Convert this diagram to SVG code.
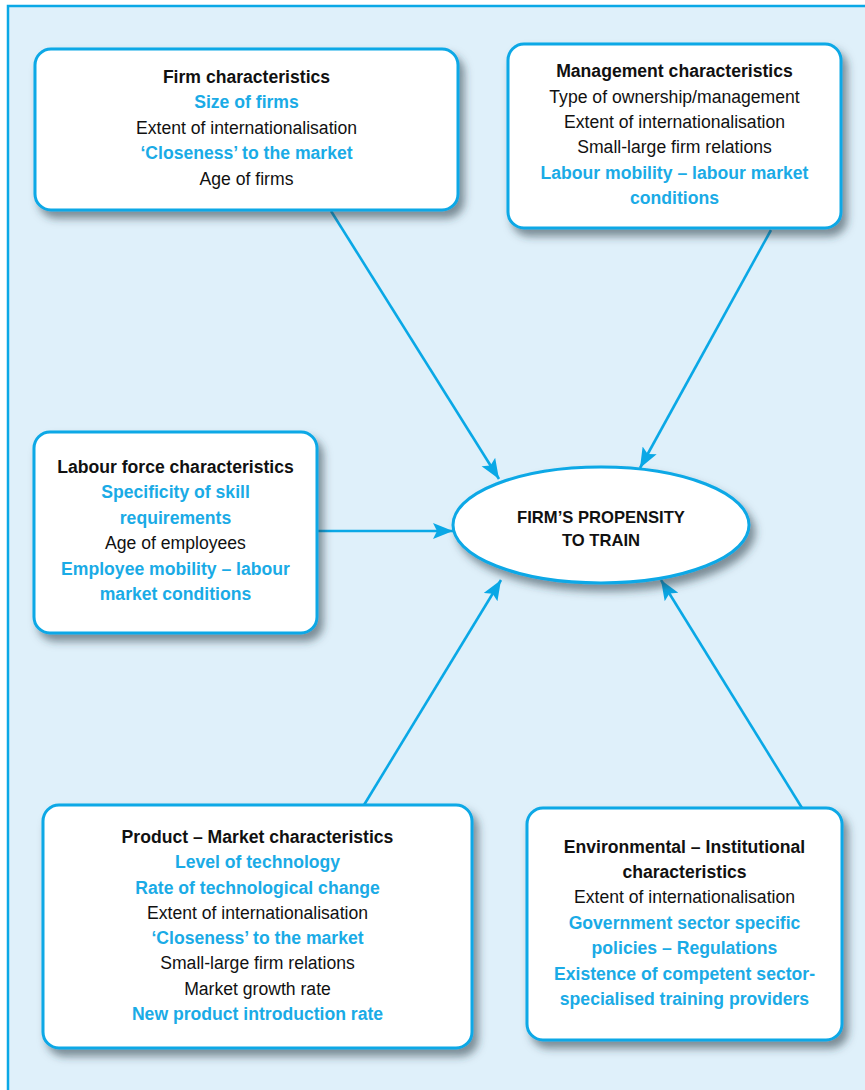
<svg xmlns="http://www.w3.org/2000/svg" width="865" height="1090" viewBox="0 0 865 1090">
<style>
text{font-family:"Liberation Sans",Arial,sans-serif;font-size:17.6px;text-anchor:middle;fill:#111}
.b{font-weight:bold}
.c{fill:#1aabe6;font-weight:bold}
.box{fill:#fff;stroke:#0aa8e6;stroke-width:3;filter:url(#sh)}
.conn{stroke:#0aa8e6;stroke-width:2.6;fill:none;marker-end:url(#ah)}
.et{font-weight:bold;font-size:16.6px}
</style>
<defs>
<filter id="sh" x="-10%" y="-10%" width="125%" height="135%">
<feDropShadow dx="5" dy="7" stdDeviation="4" flood-color="#2a3a45" flood-opacity="0.55"/>
</filter>
<marker id="ah" markerUnits="userSpaceOnUse" markerWidth="22" markerHeight="18" refX="20" refY="8" orient="auto">
<path d="M0,0 L20,8 L0,16 L4,8 z" fill="#0aa8e6"/>
</marker>
</defs>
<rect x="0" y="0" width="865" height="1090" fill="#ffffff"/>
<rect x="8" y="6" width="880" height="1100" fill="#dff0fa" stroke="#0aa8e6" stroke-width="2.5"/>

<g id="connectors">
<line class="conn" x1="331" y1="211" x2="499" y2="479"/>
<line class="conn" x1="771" y1="230" x2="640" y2="468"/>
<line class="conn" x1="318" y1="531" x2="453" y2="531"/>
<line class="conn" x1="364" y1="805" x2="501" y2="580"/>
<line class="conn" x1="802" y1="808" x2="661" y2="580"/>
</g>

<g id="firm">
<rect class="box" x="35" y="49" width="423" height="161" rx="16"/>
<text class="b" x="246.5" y="83">Firm characteristics</text>
<text class="c" x="246.5" y="108">Size of firms</text>
<text x="246.5" y="134">Extent of internationalisation</text>
<text class="c" x="246.5" y="159">‘Closeness’ to the market</text>
<text x="246.5" y="185">Age of firms</text>
</g>

<g id="management">
<rect class="box" x="508" y="44" width="333" height="184" rx="16"/>
<text class="b" x="674.5" y="77">Management characteristics</text>
<text x="674.5" y="102.5">Type of ownership/management</text>
<text x="674.5" y="128">Extent of internationalisation</text>
<text x="674.5" y="153">Small-large firm relations</text>
<text class="c" x="674.5" y="179">Labour mobility – labour market</text>
<text class="c" x="674.5" y="204">conditions</text>
</g>

<g id="labour">
<rect class="box" x="34" y="432" width="283" height="201" rx="16"/>
<text class="b" x="175.5" y="473">Labour force characteristics</text>
<text class="c" x="175.5" y="498">Specificity of skill</text>
<text class="c" x="175.5" y="524">requirements</text>
<text x="175.5" y="549">Age of employees</text>
<text class="c" x="175.5" y="575">Employee mobility – labour</text>
<text class="c" x="175.5" y="600">market conditions</text>
</g>

<g id="propensity">
<ellipse class="box" cx="601" cy="525" rx="148" ry="58"/>
<text class="et" x="601" y="523">FIRM’S PROPENSITY</text>
<text class="et" x="601" y="546">TO TRAIN</text>
</g>

<g id="product">
<rect class="box" x="43" y="805" width="429" height="243" rx="16"/>
<text class="b" x="257.5" y="843">Product – Market characteristics</text>
<text class="c" x="257.5" y="868">Level of technology</text>
<text class="c" x="257.5" y="894">Rate of technological change</text>
<text x="257.5" y="919">Extent of internationalisation</text>
<text class="c" x="257.5" y="944">‘Closeness’ to the market</text>
<text x="257.5" y="969">Small-large firm relations</text>
<text x="257.5" y="995">Market growth rate</text>
<text class="c" x="257.5" y="1020">New product introduction rate</text>
</g>

<g id="environmental">
<rect class="box" x="527" y="808" width="315" height="232" rx="16"/>
<text class="b" x="684.5" y="853">Environmental – Institutional</text>
<text class="b" x="684.5" y="878">characteristics</text>
<text x="684.5" y="903">Extent of internationalisation</text>
<text class="c" x="684.5" y="929">Government sector specific</text>
<text class="c" x="684.5" y="954">policies – Regulations</text>
<text class="c" x="684.5" y="980">Existence of competent sector-</text>
<text class="c" x="684.5" y="1005">specialised training providers</text>
</g>
</svg>
